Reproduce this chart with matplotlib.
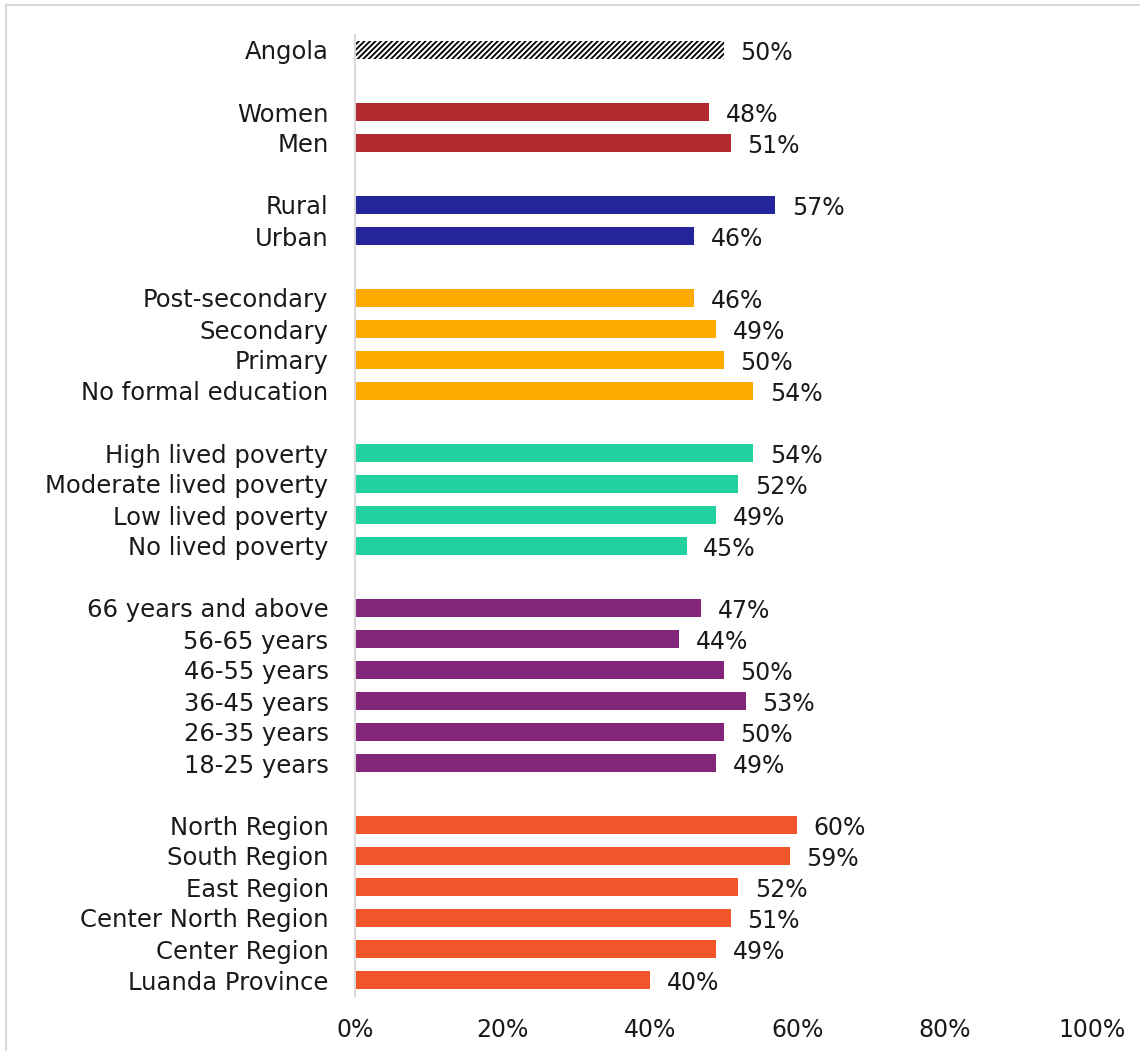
import matplotlib.pyplot as plt
from matplotlib.patches import Rectangle

# groups of the chart, top to bottom
national = ["Angola"]
national_vals = [50]

gender = ["Women", "Men"]
gender_vals = [48, 51]

location = ["Rural", "Urban"]
location_vals = [57, 46]

education = ["Post-secondary", "Secondary", "Primary", "No formal education"]
education_vals = [46, 49, 50, 54]

poverty = ["High lived poverty", "Moderate lived poverty", "Low lived poverty", "No lived poverty"]
poverty_vals = [54, 52, 49, 45]

age = ["66 years and above", "56-65 years", "46-55 years", "36-45 years", "26-35 years", "18-25 years"]
age_vals = [47, 44, 50, 53, 50, 49]

region = ["North Region", "South Region", "East Region", "Center North Region",
          "Center Region", "Luanda Province"]
region_vals = [60, 59, 52, 51, 49, 40]

groups = [
    (national, national_vals, "white"),
    (gender, gender_vals, "#b2292e"),
    (location, location_vals, "#25259b"),
    (education, education_vals, "#ffaa00"),
    (poverty, poverty_vals, "#21d19f"),
    (age, age_vals, "#832679"),
    (region, region_vals, "#f2552a"),
]

plt.rcParams['font.family'] = ['DejaVu Sans']
plt.rcParams['hatch.linewidth'] = 1.3

fig = plt.figure(figsize=(11.4, 10.51), dpi=100)
ax = fig.add_axes([355 / 1140, (1051 - 995.5) / 1051, 737 / 1140, 961 / 1051])

pos = 0
ticks = []
labels = []
for cats, vals, col in groups:
    for c, v in zip(cats, vals):
        if c == "Angola":
            ax.barh(pos, v, height=0.58, color="white", edgecolor="black",
                    hatch="//////", linewidth=0)
        else:
            ax.barh(pos, v, height=0.58, color=col)
        ax.annotate(f"{v}%", (v, pos), xytext=(12, -2), textcoords="offset points",
                    ha="left", va="center", fontsize=17, color="#1a1a1a")
        ticks.append(pos)
        labels.append(c)
        pos += 1
    pos += 1

ax.set_ylim(30.5, -0.5)
ax.set_xlim(0, 100)
ax.set_yticks(ticks)
ax.set_yticklabels(labels, fontsize=17.5, color="#1a1a1a")
ax.set_xticks([0, 20, 40, 60, 80, 100])
ax.set_xticklabels(["0%", "20%", "40%", "60%", "80%", "100%"], fontsize=17, color="#1a1a1a")
ax.tick_params(axis="y", length=0, pad=19)
ax.tick_params(axis="x", length=0, pad=16)

for s in ["top", "right", "bottom"]:
    ax.spines[s].set_visible(False)
ax.spines["left"].set_color("#d9d9d9")
ax.spines["left"].set_linewidth(1.5)

# light frame around the chart
fig.patches.append(Rectangle((6 / 1140, -0.1), 1.2, (1051 - 5) / 1051 + 0.1,
                             transform=fig.transFigure, fill=False,
                             edgecolor="#d9d9d9", linewidth=1.5))

fig.savefig("out.png", dpi=100)
